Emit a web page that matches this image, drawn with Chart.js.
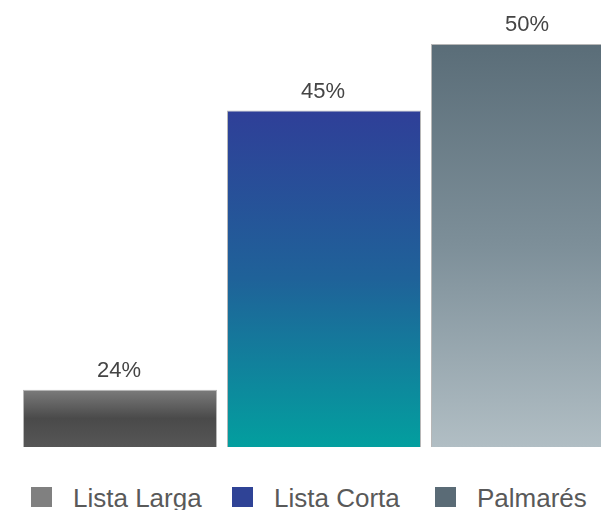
<!DOCTYPE html>
<html lang="es">
<head>
  <meta charset="UTF-8">
  <title>Listas</title>
  <script src="https://cdn.jsdelivr.net/npm/chart.js"></script>
  <style>
    html, body { margin: 0; padding: 0; overflow: hidden; background: #fff; }
    body { width: 601px; height: 510px; position: relative; }
    #wrap { position: absolute; left: 0; top: 0; width: 640px; height: 460px; }
    #legend {
      position: absolute; left: 31px; top: 485px;
      display: grid; grid-template-columns: 201px 203px auto;
      font-family: "Liberation Sans", Arial, sans-serif; font-size: 26px;
      line-height: 26px; color: #595959;
    }
    .item { display: flex; align-items: flex-start; white-space: nowrap; }
    .box { width: 21px; height: 20px; margin-top: 2px; margin-right: 21px; }
  </style>
</head>
<body>
  <div id="wrap"><canvas id="chart" width="640" height="460"></canvas></div>
  <div id="legend"></div>

  <script>
    // categories and values
    const categories = ['Lista Larga', 'Lista Corta', 'Palmarés'];
    const values = [24, 45, 50];
    const valueLabels = ['24%', '45%', '50%'];

    // legend swatches and gradient stops (top -> bottom) per bar
    const swatchColors = ['#808080', '#2f4396', '#5a6b76'];
    const gradientStops = [
      [[0, '#7b7b7b'], [0.5, '#4a4a4a'], [1, '#565656']],
      [[0, '#2f3f98'], [0.5, '#1f6299'], [1, '#039f9f']],
      [[0, '#5a6d78'], [0.5, '#7d8f99'], [1, '#b1bec4']]
    ];

    function barFill(ctx) {
      const chart = ctx.chart;
      const area = chart.chartArea;
      if (!area || ctx.type !== 'data') return swatchColors[ctx.dataIndex];
      const y = chart.scales.y;
      const top = y.getPixelForValue(values[ctx.dataIndex]);
      const bottom = y.getPixelForValue(y.min);
      const g = chart.ctx.createLinearGradient(0, top, 0, bottom);
      gradientStops[ctx.dataIndex].forEach(s => g.addColorStop(s[0], s[1]));
      return g;
    }

    // value labels above bars
    const valueLabelPlugin = {
      id: 'valueLabels',
      afterDatasetsDraw(chart) {
        const ctx = chart.ctx;
        const meta = chart.getDatasetMeta(0);
        ctx.save();
        ctx.font = '22px "Liberation Sans", Arial, sans-serif';
        ctx.fillStyle = '#444444';
        ctx.textAlign = 'center';
        ctx.textBaseline = 'alphabetic';
        meta.data.forEach((bar, i) => {
          ctx.fillText(valueLabels[i], bar.x - 1, bar.y - 13);
        });
        ctx.restore();
      }
    };

    new Chart(document.getElementById('chart'), {
      type: 'bar',
      data: {
        labels: categories,
        datasets: [{
          data: values,
          backgroundColor: barFill,
          borderColor: 'rgba(175,175,175,0.9)',
          borderWidth: 1,
          borderSkipped: false,
          categoryPercentage: 1,
          barPercentage: 0.951
        }]
      },
      options: {
        responsive: false,
        animation: false,
        layout: { padding: { left: 18, right: 10, top: 44, bottom: 13 } },
        plugins: { legend: { display: false }, tooltip: { enabled: false } },
        scales: {
          x: { display: false },
          y: { display: false, min: 19.7, max: 50 }
        }
      },
      plugins: [valueLabelPlugin]
    });

    // html legend
    const legend = document.getElementById('legend');
    categories.forEach((name, i) => {
      const item = document.createElement('div');
      item.className = 'item';
      item.innerHTML = `<span class="box" style="background:${swatchColors[i]}"></span><span>${name}</span>`;
      legend.appendChild(item);
    });
  </script>
</body>
</html>
